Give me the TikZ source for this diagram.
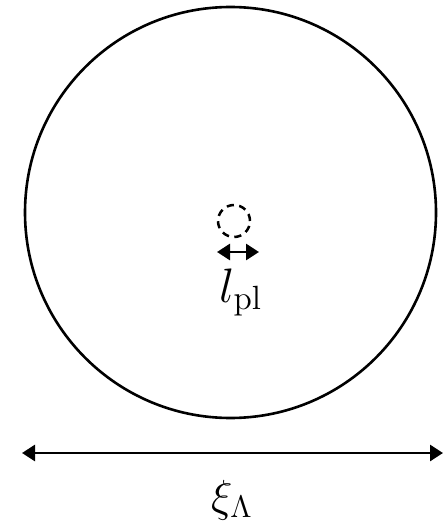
\documentclass[tikz,border=0pt]{standalone}
\usepackage{amsmath,amssymb}
\usepackage{graphicx}
\usepackage{tikz}
\usetikzlibrary{arrows.meta}

\begin{document}
\begin{tikzpicture}[x=0.5pt, y=-0.5pt,
  dblarrow/.style={line width=1.4pt, {Triangle[length=6.5pt, width=8pt]}-{Triangle[length=6.5pt, width=8pt]}},
  biglabel/.style={anchor=base, inner sep=0pt, font=\LARGE}]
\useasboundingbox (0,0) rectangle (445,529);

% the large volume
\node[circle, draw, line width=1.3pt, inner sep=0pt, minimum size=205.5pt] (vol) at (230.5,212.5) {};
% the small planck-size region
\node[circle, draw, dash pattern=on 3.6pt off 2.7pt, line width=1.25pt, inner sep=0pt, minimum size=16pt] (pl) at (234,221) {};

% small arrow and its label
\coordinate (plL) at (217,252);
\coordinate (plR) at (259,252);
\draw[dblarrow] (plL) -- (plR);
\node[biglabel] (lpl) at (241,302) {\scalebox{1.4}{$l_{\mathrm{pl}}$}};

% correlation length
\coordinate (xiL) at (22,453);
\coordinate (xiR) at (443,453);
\draw[dblarrow] (xiL) -- (xiR);
\node[biglabel] (xi) at (232,511) {\scalebox{1.3}{$\xi_{\Lambda}$}};

\end{tikzpicture}
\end{document}
